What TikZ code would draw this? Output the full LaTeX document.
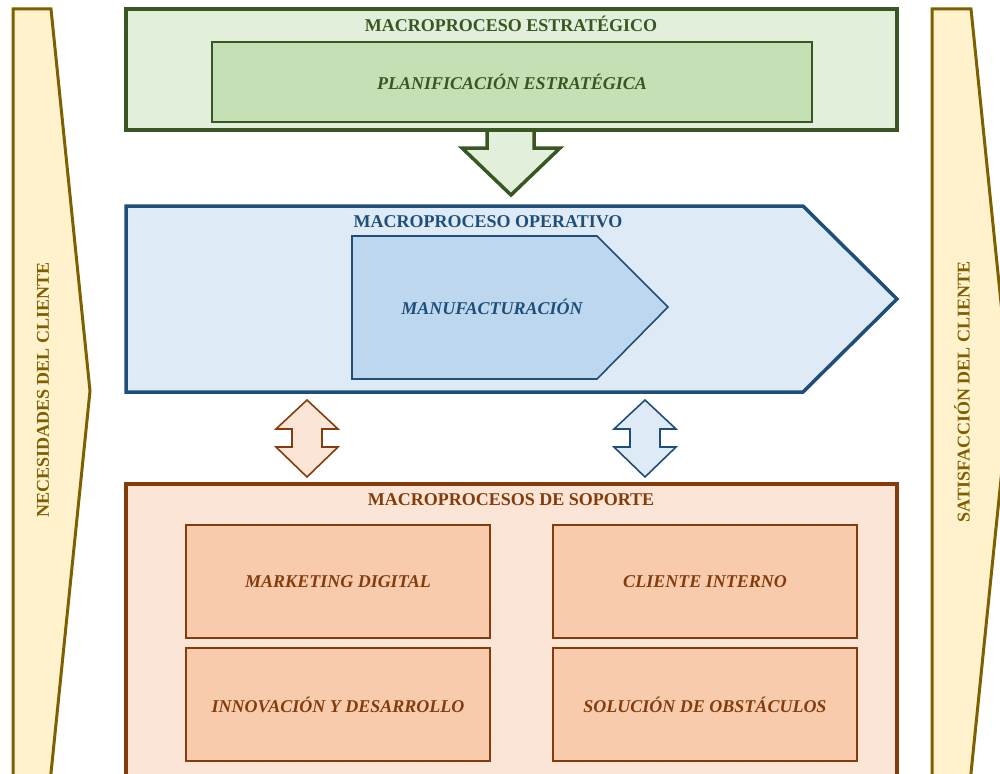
\documentclass[tikz,border=0pt]{standalone}
\usepackage{fontspec}
\setmainfont{Liberation Serif}
\usetikzlibrary{positioning, calc}
\definecolor{StratLine}{RGB}{56, 87, 35}
\definecolor{StratFill}{RGB}{226, 239, 218}
\definecolor{StratInner}{RGB}{197, 224, 180}
\definecolor{OperLine}{RGB}{31, 78, 121}
\definecolor{OperFill}{RGB}{222, 235, 247}
\definecolor{OperInner}{RGB}{189, 215, 238}
\definecolor{SupLine}{RGB}{132, 60, 12}
\definecolor{SupFill}{RGB}{251, 229, 214}
\definecolor{SupInner}{RGB}{248, 203, 173}
\definecolor{ClientLine}{RGB}{127, 96, 0}
\definecolor{ClientFill}{RGB}{255, 242, 204}

\tikzset{
  title/.style={font=\fontsize{18}{21}\selectfont\bfseries, inner sep=0pt},
  item/.style={font=\fontsize{18}{21}\selectfont\bfseries\itshape, inner sep=0pt},
  outerbox/.style={draw, line width=3.5pt, anchor=north west, inner sep=0pt, outer sep=0pt},
  innerbox/.style={draw, line width=1.6pt, anchor=north west, inner sep=0pt, outer sep=0pt,
    minimum width=304pt, minimum height=113pt}
}

\begin{document}
\begin{tikzpicture}[x=1pt, y=-1pt]
    \useasboundingbox (0,0) rectangle (1000,773);
    \clip (0,0) rectangle (1000,773);

    % Client arrows
    \draw[ClientLine, fill=ClientFill, line width=3pt] (13,9) -- (51,9) -- (90,391) -- (51,773) -- (49,795) -- (13,795) -- cycle;
    \draw[ClientLine, fill=ClientFill, line width=3pt] (932,9) -- (971,9) -- (1010,391) -- (971,773) -- (969,795) -- (932,795) -- cycle;
    \node[title, text=ClientLine, rotate=90] (needs) at (43,390) {NECESIDADES DEL CLIENTE};
    \node[title, text=ClientLine, rotate=90] (satisf) at (962,392) {SATISFACCIÓN DEL CLIENTE};

    % Strategic
    \draw[StratLine, fill=StratFill, line width=3.5pt] (487,130) -- (487,148) -- (462,148) -- (511,195) -- (560,148) -- (534,148) -- (534,130);
    \node[outerbox, draw=StratLine, fill=StratFill, minimum width=771pt, minimum height=121pt] (strat) at (126,9) {};
    \node[title, text=StratLine] (strattitle) at (511,24) {MACROPROCESO ESTRATÉGICO};
    \node[innerbox, draw=StratLine, fill=StratInner, minimum width=600pt, minimum height=80pt] (plan) at (212,42) {};
    \node[item, text=StratLine] (plantext) at (plan.center) {PLANIFICACIÓN ESTRATÉGICA};

    % Operative
    \draw[OperLine, fill=OperFill, line width=3.5pt] (126,206) -- (803,206) -- (897,299) -- (803,392) -- (126,392) -- cycle;
    \node[title, text=OperLine] (opertitle) at (488,222) {MACROPROCESO OPERATIVO};
    \draw[OperLine, fill=OperInner, line width=1.6pt] (352,236) -- (597,236) -- (668,307) -- (597,379) -- (352,379) -- cycle;
    \node[item, text=OperLine] (manuf) at (492,307) {MANUFACTURACIÓN};

    % Links to support
    \foreach \cx/\ln/\fl in {307/SupLine/SupFill, 645/OperLine/OperFill}
      \draw[\ln, fill=\fl, line width=1.6pt] (\cx,400) -- ++(31,29) -- ++(-16,0) -- ++(0,18) -- ++(16,0)
        -- (\cx,477) -- ++(-31,-30) -- ++(16,0) -- ++(0,-18) -- ++(-16,0) -- cycle;

    % Support
    \node[outerbox, draw=SupLine, fill=SupFill, minimum width=771pt, minimum height=330pt] (sup) at (126,484) {};
    \node[title, text=SupLine] (suptitle) at (511,500) {MACROPROCESOS DE SOPORTE};
    \node[innerbox, draw=SupLine, fill=SupInner] (mkt) at (186,525) {};
    \node[innerbox, draw=SupLine, fill=SupInner, right=63pt of mkt] (cli) {};
    \node[innerbox, draw=SupLine, fill=SupInner, below=10pt of mkt] (inno) {};
    \node[innerbox, draw=SupLine, fill=SupInner, below=10pt of cli] (sol) {};
    \node[item, text=SupLine] at (mkt.center) {MARKETING DIGITAL};
    \node[item, text=SupLine] at (cli.center) {CLIENTE INTERNO};
    \node[item, text=SupLine] at (inno.center) {INNOVACIÓN Y DESARROLLO};
    \node[item, text=SupLine] at (sol.center) {SOLUCIÓN DE OBSTÁCULOS};
  \end{tikzpicture}
\end{document}
